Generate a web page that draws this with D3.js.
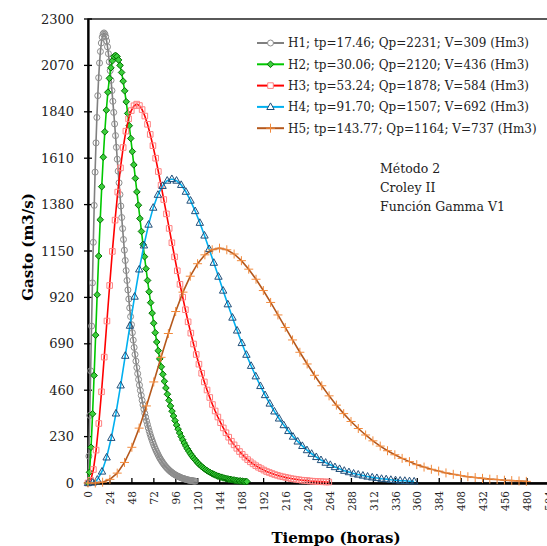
<!DOCTYPE html>
<html>
<head>
<meta charset="utf-8">
<script src="https://cdn.jsdelivr.net/npm/d3@7"></script>
<style>
  body { margin: 0; background: #fff; }
  svg { display: block; }
</style>
</head>
<body>
<script>
// hydrograph values (m3/s), one value per time step
const h1 = [0,133,335,556,778,992,1193,1376,1541,1686,
  1812,1920,2009,2082,2139,2181,2210,2226,2231,2226,
  2212,2191,2162,2128,2088,2044,1996,1945,1892,1837,
  1780,1722,1664,1605,1546,1488,1430,1373,1316,1261,
  1207,1154,1103,1053,1004,957,912,868,825,785,
  745,708,672,637,604,572,542,513,485,459,
  434,410,387,366,345,326,307,290,273,257,
  242,228,215,202,190,179,168,158,149,140,
  131,123,116,109,102,96,90,84,79,74,
  70,65,61,57,54,50,47,44,41,39,
  36,34,32,30,28,26,24,23,21,20,
  19,17,16,15,14,13,12,12,11,10,
  9,9];
const h2 = [0,53,177,343,533,733,933,1125,1305,1469,
  1615,1741,1848,1937,2006,2058,2093,2114,2120,2114,
  2097,2070,2035,1992,1944,1890,1832,1771,1708,1643,
  1577,1510,1443,1377,1311,1247,1183,1122,1062,1004,
  948,894,842,792,745,699,656,615,576,539,
  504,471,440,410,382,356,332,309,287,267,
  248,230,214,198,184,170,158,146,135,125,
  116,107,99,91,84,78,72,66,61,56,
  52,48,44,41,37,34,32,29,27,25,
  23,21,19,18,16,15,14,12,11,10,
  10,9,8,7,7];
const h3 = [0,13,67,163,295,452,624,803,979,1148,
  1303,1442,1562,1663,1744,1805,1846,1870,1878,1871,
  1851,1819,1778,1728,1672,1610,1544,1476,1405,1334,
  1262,1191,1121,1052,985,921,859,799,743,689,
  637,589,544,501,461,424,389,357,327,299,
  273,249,227,207,189,172,156,142,128,116,
  105,95,86,78,71,64,57,52,47,42,
  38,34,31,28,25,22,20,18,16,14,
  13,12,10,9,8,7,7,6,5,5];
const h4 = [0,2,17,57,127,224,345,484,631,780,
  924,1059,1178,1281,1365,1429,1473,1499,1507,1499,
  1478,1444,1400,1348,1290,1227,1160,1092,1023,954,
  886,820,756,694,636,581,529,481,436,394,
  355,320,287,258,230,206,184,163,145,129,
  114,101,90,79,70,61,54,47,42,37,
  32,28,25,21,19,16,14,12,11,9,
  8];
const h5 = [0,0,4,18,49,102,177,272,382,501,
  623,741,850,946,1025,1087,1131,1156,1164,1156,
  1135,1102,1060,1010,954,895,833,771,709,648,
  590,534,482,432,386,344,305,270,238,209,
  183,160,140,122,106,91,79,68,59,50,
  43,37,31,27,23,19,17,14,12,10,
  8];

// time step of each series (hours)
const stepHours = [0.97, 1.67, 2.958, 5.094, 7.987];

const seriesNames = [
  "H1; tp=17.46; Qp=2231; V=309 (Hm3)",
  "H2; tp=30.06; Qp=2120; V=436 (Hm3)",
  "H3; tp=53.24; Qp=1878; V=584 (Hm3)",
  "H4; tp=91.70; Qp=1507; V=692 (Hm3)",
  "H5; tp=143.77; Qp=1164; V=737 (Hm3)"
];

const xTicks = [0,24,48,72,96,120,144,168,192,216,240,264,288,312,336,360,384,408,432,456,480,504];
const yTicks = [0,230,460,690,920,1150,1380,1610,1840,2070,2300];
const noteLines = ["Método 2", "Croley II", "Función Gamma V1"];

// styles
const lineColors   = ["#808080", "#00c800", "#ff0000", "#00b0f0", "#b5581c"];
const markerStroke = ["#8c8c8c", "#007000", "#ff8080", "#1f4e79", "#f28a3c"];
const markerFill   = ["none", "#3ccf3c", "none", "none", "none"];
const markerShape  = [
  "M3,0A3,3 0 1,1 -3,0A3,3 0 1,1 3,0Z",
  "M0,-3.3L3.3,0L0,3.3L-3.3,0Z",
  "M-2.8,-2.8H2.8V2.8H-2.8Z",
  "M0,-4L3.7,2.6L-3.7,2.6Z",
  "M-4.5,0H4.5M0,-4.5V4.5"
];

const font = "'DejaVu Serif', 'Liberation Serif', serif";
const W = 547, H = 546;
const pLeft = 88, pRight = 549, pTop = 19, pBottom = 483;

const svg = d3.select("body").append("svg")
  .attr("width", W).attr("height", H)
  .style("font-family", font);

const x = d3.scaleLinear().domain([0, 504]).range([pLeft, pRight]);
const y = d3.scaleLinear().domain([0, 2300]).range([pBottom, pTop]);

// frame
svg.append("rect")
  .attr("x", pLeft).attr("y", pTop)
  .attr("width", pRight - pLeft).attr("height", pBottom - pTop)
  .attr("fill", "none").attr("stroke", "#000").attr("stroke-width", 1.3);

// axes
const yAxis = svg.append("g")
  .attr("transform", `translate(${pLeft},0)`)
  .call(d3.axisLeft(y).tickValues(yTicks).tickFormat(d3.format("d")).tickSize(0).tickPadding(14));
yAxis.select(".domain").attr("stroke-width", 2.2);
yAxis.selectAll("text").style("font-family", font).style("font-size", "13px").attr("fill", "#222");

const xAxis = svg.append("g")
  .attr("transform", `translate(0,${pBottom})`)
  .call(d3.axisBottom(x).tickValues(xTicks).tickFormat(d3.format("d")).tickSize(0));
xAxis.select(".domain").attr("stroke-width", 2.6);
xAxis.selectAll("text")
  .style("font-family", font).style("font-size", "10.5px").attr("fill", "#222")
  .attr("text-anchor", "end")
  .attr("transform", "rotate(-90)")
  .attr("x", -8).attr("y", 0).attr("dy", "0.35em");

// tick marks crossing the axes
svg.append("g").selectAll("line").data(yTicks).join("line")
  .attr("x1", pLeft - 4).attr("x2", pLeft + 4)
  .attr("y1", d => y(d)).attr("y2", d => y(d))
  .attr("stroke", "#000").attr("stroke-width", 1.3);
svg.append("g").selectAll("line").data(xTicks).join("line")
  .attr("x1", d => x(d)).attr("x2", d => x(d))
  .attr("y1", pBottom - 5).attr("y2", pBottom + 1)
  .attr("stroke", "#000").attr("stroke-width", 1.3);

// series
const allSeries = [h1, h2, h3, h4, h5];
const line = d3.line().x(d => x(d[0])).y(d => y(d[1]));

allSeries.forEach((vals, s) => {
  const pts = vals.map((v, i) => [i * stepHours[s], v]);
  const g = svg.append("g");
  g.append("path").datum(pts)
    .attr("d", line)
    .attr("fill", "none")
    .attr("stroke", lineColors[s])
    .attr("stroke-width", 1.6);
  g.selectAll("path.mk").data(pts).join("path")
    .attr("class", "mk")
    .attr("d", markerShape[s])
    .attr("transform", d => `translate(${x(d[0])},${y(d[1])})`)
    .attr("fill", markerFill[s])
    .attr("stroke", markerStroke[s])
    .attr("stroke-width", 1);
});

// legend
const legend = svg.append("g");
seriesNames.forEach((name, i) => {
  const cy = 43 + i * 21.3;
  legend.append("line")
    .attr("x1", 257).attr("x2", 284).attr("y1", cy).attr("y2", cy)
    .attr("stroke", lineColors[i]).attr("stroke-width", 2);
  legend.append("path")
    .attr("d", markerShape[i])
    .attr("transform", `translate(270.5,${cy})`)
    .attr("fill", markerFill[i] === "none" ? "#fff" : markerFill[i])
    .attr("stroke", markerStroke[i]).attr("stroke-width", 1);
  legend.append("text")
    .attr("x", 288).attr("y", cy).attr("dy", "0.36em")
    .style("font-size", "12px").attr("fill", "#222")
    .text(name);
});

// note
noteLines.forEach((t, i) => {
  svg.append("text")
    .attr("x", 380).attr("y", 172.5 + i * 19)
    .style("font-size", "12.5px").attr("fill", "#222")
    .text(t);
});

// axis titles
svg.append("text")
  .attr("transform", "translate(33,247) rotate(-90)")
  .attr("text-anchor", "middle")
  .style("font-size", "15px").style("font-weight", "bold")
  .text("Gasto (m3/s)");

svg.append("text")
  .attr("x", 336).attr("y", 543)
  .attr("text-anchor", "middle")
  .style("font-size", "15px").style("font-weight", "bold")
  .text("Tiempo (horas)");
</script>
</body>
</html>
